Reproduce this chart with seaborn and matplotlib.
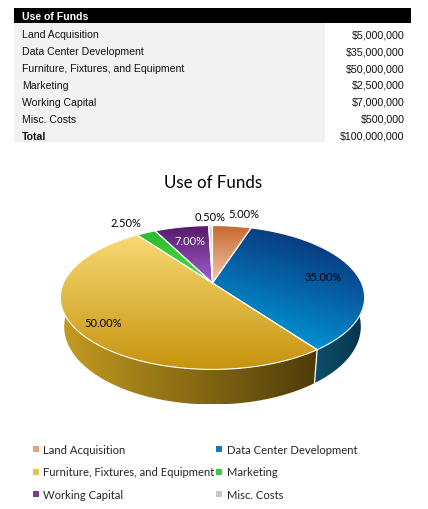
import numpy as np
import matplotlib
matplotlib.use("Agg")
import matplotlib.pyplot as plt
import seaborn as sns
from matplotlib.patches import Polygon, Rectangle
from matplotlib.lines import Line2D
from matplotlib.legend import Legend

# ---------------- data ----------------
table_title = "Use of Funds"
chart_title = "Use of Funds"
categories = ["Land Acquisition", "Data Center Development",
              "Furniture, Fixtures, and Equipment", "Marketing",
              "Working Capital", "Misc. Costs"]
amounts = [5000000, 35000000, 50000000, 2500000, 7000000, 500000]
total_label = "Total"
total_amount = 100000000

# ---------------- styles ----------------
legend_colors = ["#e3a27c", "#1479b8", "#e8c24e", "#3fc93f", "#7b3a9c", "#c8c8c8"]
top_grad = [((200, 105, 45), (242, 200, 172)),
            ((10, 35, 105), (0, 172, 235)),
            ((248, 218, 116), (198, 148, 14)),
            ((45, 185, 45), (70, 225, 60)),
            ((85, 25, 105), (165, 95, 205)),
            ((215, 215, 215), (242, 242, 242))]
top_dir = [(0, 1), (-0.4, 1), (0, 1), (0, 1), (0, 1), (0, 1)]
side_grad = [((200, 110, 50), (120, 60, 20)),
             ((12, 78, 105), (5, 52, 75)),
             ((196, 156, 32), (78, 60, 8)),
             ((40, 160, 40), (20, 90, 20)),
             ((110, 40, 130), (60, 20, 70)),
             ((200, 200, 200), (120, 120, 120))]
label_pos = [(244, 215), (323, 277.5), (103, 324), (126, 223.5), (189.5, 242), (210, 217.5)]
label_col = ["black", "black", "black", "black", "white", "black"]

sns.set_theme(style="white")
plt.rcParams["font.family"] = ["Lato", "DejaVu Sans"]
table_font = ["Liberation Sans", "DejaVu Sans"]

fig = plt.figure(figsize=(4.28, 5.10), dpi=100)
ax = fig.add_axes([0, 0, 1, 1])
ax.set_xlim(0, 428)
ax.set_ylim(510, 0)
ax.axis("off")

# ---------------- table ----------------
ax.add_patch(Rectangle((14, 9.3), 396.7, 14.7, facecolor="black", edgecolor="none"))
ax.text(21.7, 16.9, table_title, color="white", fontweight="bold", fontsize=7.6,
        va="center", ha="left", family=table_font)
ax.add_patch(Rectangle((14, 24), 311, 118.7, facecolor="#f2f2f2", edgecolor="none"))
rows = list(zip(categories, amounts)) + [(total_label, total_amount)]
for i, (name, val) in enumerate(rows):
    y = 35.2 + 16.92 * i
    bold = "bold" if name == total_label else "normal"
    ax.text(21.7, y, name, fontsize=7.6, va="center", ha="left", family=table_font,
            fontweight=bold, color="#111111")
    ax.text(404.5, y, "${:,.0f}".format(val), fontsize=7.7, va="center", ha="right",
            family=table_font, color="#111111")

# ---------------- 3D pie ----------------
cx, cy = 212.5, 284.0
rx = 149.0
p_y = -69.0
q = 0.2014
H = 28.0
sb = 0.975


def project(theta, bottom=False):
    X = np.sin(theta)
    Y = np.cos(theta)
    den = 1 + q * Y
    x = cx + rx * X / den
    y = cy + p_y * Y / den
    if bottom:
        x = cx + (x - cx) * sb
        y = y + H / den
    return x, y


def grad_fill(verts, c0, c1, direction=(0, 1), z=2):
    verts = np.asarray(verts)
    x0, y0 = verts.min(axis=0)
    x1, y1 = verts.max(axis=0)
    n = 200
    gx, gy = np.meshgrid(np.linspace(0, 1, n), np.linspace(0, 1, n))
    dx, dy = direction
    t = gx * dx + gy * dy
    t = (t - t.min()) / (t.max() - t.min() + 1e-9)
    c0 = np.array(c0) / 255.0
    c1 = np.array(c1) / 255.0
    img = c0[None, None, :] * (1 - t[..., None]) + c1[None, None, :] * t[..., None]
    poly = Polygon(verts, closed=True, facecolor="none", edgecolor="none",
                   transform=ax.transData)
    ax.add_patch(poly)
    im = ax.imshow(img, extent=(x0, x1, y1, y0), origin="upper", aspect="auto",
                   interpolation="bilinear", zorder=z)
    im.set_clip_path(poly)
    return poly


total = float(sum(amounts))
fracs = np.array(amounts) / total
ends = np.cumsum(fracs) * 2 * np.pi
starts = ends - fracs * 2 * np.pi

# side walls (front half only)
for i in range(len(amounts)):
    a = max(starts[i], np.pi / 2)
    b = min(ends[i], 3 * np.pi / 2)
    if a >= b:
        continue
    th = np.linspace(a, b, 120)
    tx, ty = project(th)
    bx, by = project(th, bottom=True)
    verts = np.column_stack([np.r_[tx, bx[::-1]], np.r_[ty, by[::-1]]])
    grad_fill(verts, side_grad[i][0], side_grad[i][1], direction=(1, 0), z=2)

# separators on the side
for e in ends[:-1]:
    if np.pi / 2 < e < 3 * np.pi / 2:
        x_t, y_t = project(e)
        x_b, y_b = project(e, bottom=True)
        ax.add_line(Line2D([x_t, x_b], [y_t, y_b], color="white", lw=0.9, zorder=3))

# top surface
for i in range(len(amounts)):
    th = np.linspace(starts[i], ends[i], max(8, int(fracs[i] * 400)))
    tx, ty = project(th)
    verts = np.column_stack([np.r_[cx, tx], np.r_[cy, ty]])
    grad_fill(verts, top_grad[i][0], top_grad[i][1], direction=top_dir[i], z=4)
    ax.add_patch(Polygon(verts, closed=True, facecolor="none", edgecolor="white",
                         lw=0.8, zorder=5))

# percentage labels
for i, f in enumerate(fracs):
    ax.text(label_pos[i][0], label_pos[i][1], "{:.2f}%".format(f * 100),
            ha="center", va="center", fontsize=8.0, color=label_col[i], zorder=6)

ax.text(212.7, 183.5, chart_title, ha="center", va="center", fontsize=12.2, color="black")

# legend
handles = [Line2D([], [], marker="s", linestyle="none", markersize=3.8,
                  markerfacecolor=c, markeredgewidth=0) for c in legend_colors]
order_cols = [[0, 2, 4], [1, 3, 5]]
anchors = [(32.2, 445.0), (215.5, 445.0)]
for col, anc in zip(order_cols, anchors):
    leg = Legend(ax, [handles[k] for k in col], [categories[k] for k in col],
                 loc="upper left", bbox_to_anchor=anc, bbox_transform=ax.transData,
                 frameon=False, fontsize=8.1, handlelength=0.65, handletextpad=0.33,
                 labelspacing=1.02, borderpad=0, borderaxespad=0)
    ax.add_artist(leg)

ax.set_xlim(0, 428)
ax.set_ylim(510, 0)
fig.savefig("out.png", dpi=100)
